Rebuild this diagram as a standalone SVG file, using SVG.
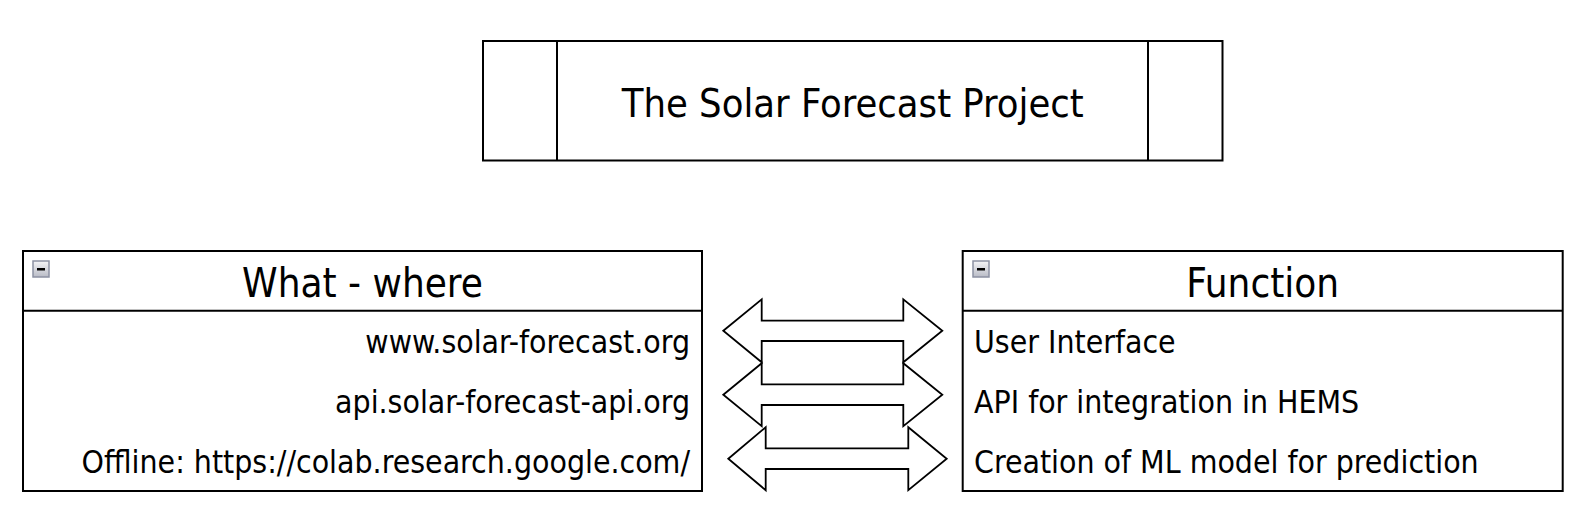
<svg xmlns="http://www.w3.org/2000/svg" width="1592" height="528" viewBox="0 0 1592 528">
  <defs>
    <linearGradient id="iconGrad" x1="0" y1="0" x2="0" y2="1">
      <stop offset="0" stop-color="#f4f4f6"/>
      <stop offset="1" stop-color="#b9bcc6"/>
    </linearGradient>
    <style>
      .box { fill: #ffffff; stroke: #000000; stroke-width: 2; }
      .line { stroke: #000000; stroke-width: 2; fill: none; }
      .arrow { fill: #ffffff; stroke: #000000; stroke-width: 1.8; stroke-linejoin: miter; }
      .t { font-family: "DejaVu Sans Condensed", "DejaVu Sans", Verdana, sans-serif; font-stretch: condensed; fill: #000000; }
      .title { font-size: 39.5px; text-anchor: middle; }
      .head { font-size: 40px; text-anchor: middle; }
      .body { font-size: 31.7px; }
      .icon { fill: url(#iconGrad); stroke: #8c91a3; stroke-width: 1.5; }
      .minus { fill: #000000; }
    </style>
  </defs>
  <rect width="1592" height="528" fill="#ffffff"/>

  <g id="title">
    <rect class="box" x="483" y="41" width="739.5" height="119.5"/>
    <line class="line" x1="557" y1="41" x2="557" y2="160.5"/>
    <line class="line" x1="1148" y1="41" x2="1148" y2="160.5"/>
    <text class="t title" x="852.75" y="116.5">The Solar Forecast Project</text>
  </g>

  <g id="what-where">
    <rect class="box" x="23" y="251" width="679" height="240"/>
    <line class="line" x1="23" y1="310.7" x2="702" y2="310.7"/>
    <rect class="icon" x="33" y="261" width="16" height="16"/>
    <rect class="minus" x="37" y="268" width="8" height="2.5"/>
    <text class="t head" x="362.5" y="297">What - where</text>
    <text class="t body" x="690" y="353" text-anchor="end">www.solar-forecast.org</text>
    <text class="t body" x="690" y="413" text-anchor="end">api.solar-forecast-api.org</text>
    <text class="t body" x="690" y="473" text-anchor="end">Offline: https://colab.research.google.com/</text>
  </g>

  <g id="function">
    <rect class="box" x="962.7" y="251" width="600" height="240"/>
    <line class="line" x1="962.7" y1="310.7" x2="1562.7" y2="310.7"/>
    <rect class="icon" x="973" y="261" width="16" height="16"/>
    <rect class="minus" x="977" y="268" width="8" height="2.5"/>
    <text class="t head" x="1262.7" y="297">Function</text>
    <text class="t body" x="974" y="353">User Interface</text>
    <text class="t body" x="974" y="413">API for integration in HEMS</text>
    <text class="t body" x="974" y="473">Creation of ML model for prediction</text>
  </g>

  <g id="connectors">
    <polygon class="arrow" points="723.3,330.8 761.7,299.3 761.7,320.7 903.3,320.7 903.3,299.3 942.3,330.8 903.3,362.3 903.3,341 761.7,341 761.7,362.3"/>
    <polygon class="arrow" points="723.3,394.7 761.7,363.2 761.7,384.3 903.3,384.3 903.3,363.2 942.3,394.7 903.3,426.2 903.3,405 761.7,405 761.7,426.2"/>
    <polygon class="arrow" points="728.3,458.7 765.7,427.2 765.7,448.3 908.3,448.3 908.3,427.2 946.7,458.7 908.3,490.2 908.3,469 765.7,469 765.7,490.2"/>
  </g>
</svg>
